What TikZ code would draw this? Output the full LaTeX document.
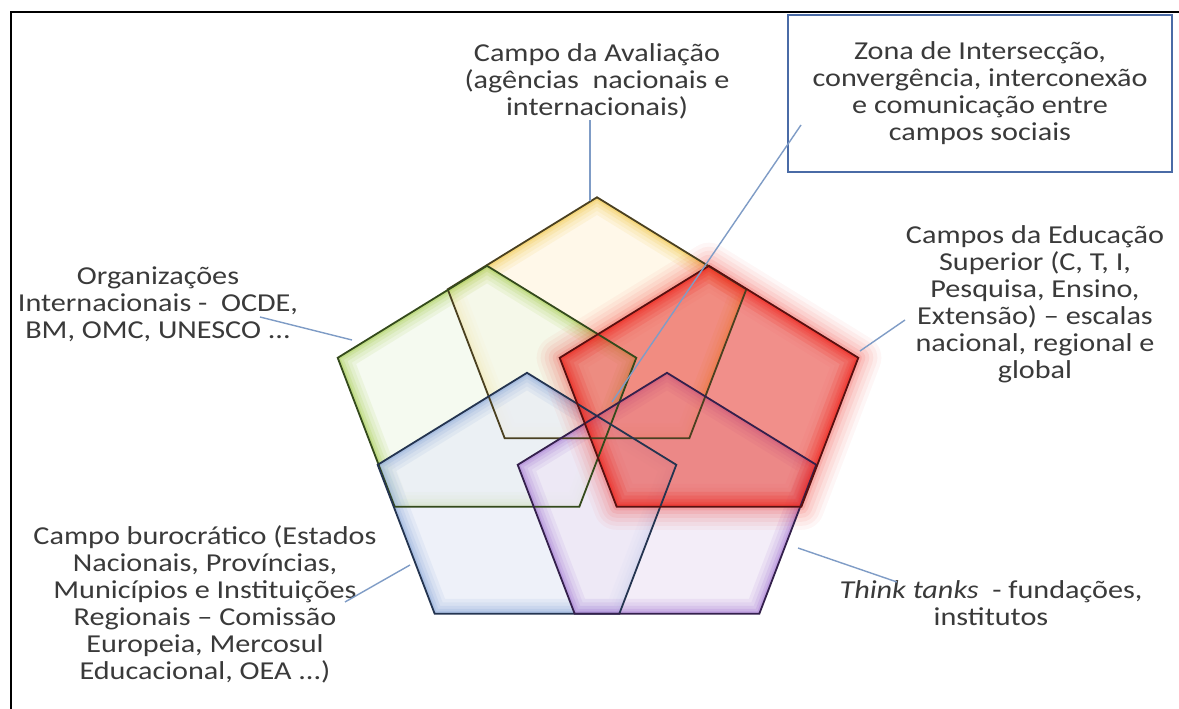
\documentclass[tikz,border=0pt]{standalone}
\usepackage{fontspec}
\setmainfont{Carlito}[FakeStretch=1.17]
\definecolor{txt}{HTML}{3A3A3A}
\definecolor{lead}{HTML}{7F9CC6}
\definecolor{boxc}{HTML}{4A6BA6}
\definecolor{yel}{HTML}{F2C230}
\definecolor{yelfill}{HTML}{FFF7E4}
\definecolor{yelln}{HTML}{4A4020}
\definecolor{grn}{HTML}{9CC83C}
\definecolor{grnfill}{HTML}{F2F8EA}
\definecolor{grnln}{HTML}{344A1C}
\definecolor{blu}{HTML}{7E9FD6}
\definecolor{blufill}{HTML}{E8ECF7}
\definecolor{bluln}{HTML}{243450}
\definecolor{pur}{HTML}{9B6BD0}
\definecolor{purfill}{HTML}{EEE6F6}
\definecolor{purln}{HTML}{34204C}
\definecolor{redc}{HTML}{F0241C}
\definecolor{redfill}{HTML}{E83F37}
\definecolor{redln}{HTML}{5A1010}
\newcommand{\mkpent}[3]{%
  \coordinate (#1-a) at (#2, #3-133.2);
  \coordinate (#1-b) at (#2+149.3, #3-41.2);
  \coordinate (#1-c) at (#2+92.3, #3+107.8);
  \coordinate (#1-d) at (#2-92.3, #3+107.8);
  \coordinate (#1-e) at (#2-149.3, #3-41.2);}
\newcommand{\pent}[2]{\path[#2] (#1-a) -- (#1-b) -- (#1-c) -- (#1-d) -- (#1-e) -- cycle;}
\newcommand{\innerglow}[2]{%
  \begin{scope}
    \clip (#1-a) -- (#1-b) -- (#1-c) -- (#1-d) -- (#1-e) -- cycle;
    \pent{#1}{draw=#2, line width=30pt, draw opacity=0.10, line join=miter}
    \pent{#1}{draw=#2, line width=23pt, draw opacity=0.10, line join=miter}
    \pent{#1}{draw=#2, line width=16pt, draw opacity=0.14, line join=miter}
    \pent{#1}{draw=#2, line width=10pt, draw opacity=0.18, line join=miter}
    \pent{#1}{draw=#2, line width=5pt, draw opacity=0.28, line join=miter}
  \end{scope}}
\begin{document}
\begin{tikzpicture}[x=1pt,y=-1pt,
  lbl/.style={font=\fontsize{25.8}{27}\selectfont, text=txt, align=center, inner sep=0pt},
  leader/.style={draw=lead, line width=1.4pt},
  pentline/.style={line width=1.8pt, line join=miter}]
\useasboundingbox (0,0) rectangle (1179,709);
\fill[white] (0,0) rectangle (1179,709);
\draw[line width=2.2pt, black] (11,709) -- (11,12) -- (1179,12);

\mkpent{Y}{597}{330.5}
\mkpent{G}{487}{399}
\mkpent{R}{709}{399}
\mkpent{B}{527}{506}
\mkpent{P}{667}{506}

\pent{Y}{fill=yelfill, fill opacity=0.8}
\innerglow{Y}{yel}
\pent{G}{fill=grnfill, fill opacity=0.7}
\innerglow{G}{grn}
\pent{B}{fill=blufill, fill opacity=0.7}
\innerglow{B}{blu}
\pent{P}{fill=purfill, fill opacity=0.7}
\innerglow{P}{pur}
% red with soft outer glow
\pent{R}{draw=redc, line width=46pt, draw opacity=0.04, line join=round}
\pent{R}{draw=redc, line width=38pt, draw opacity=0.05, line join=round}
\pent{R}{draw=redc, line width=30pt, draw opacity=0.06, line join=round}
\pent{R}{draw=redc, line width=22pt, draw opacity=0.07, line join=round}
\pent{R}{draw=redc, line width=14pt, draw opacity=0.09, line join=round}
\pent{R}{draw=redc, line width=7pt, draw opacity=0.12, line join=round}
\pent{R}{fill=redfill, fill opacity=0.58}
\innerglow{R}{redc}

\pent{Y}{draw=yelln, pentline}
\pent{G}{draw=grnln, pentline}
\pent{B}{draw=bluln, pentline}
\pent{P}{draw=purln, pentline}
\pent{R}{draw=redln, pentline}

\node[lbl] (aval) at (597,81) {Campo da Avaliação\\(agências\ \ nacionais e\\internacionais)};
\node[lbl, draw=boxc, line width=2pt, minimum width=384pt, minimum height=157pt] (zona) at (980,93.5)
  {Zona de Intersecção,\\convergência, interconexão\\e comunicação entre\\campos sociais};
\node[lbl] (edu) at (1035,304.5) {Campos da Educação\\Superior (C, T, I,\\Pesquisa, Ensino,\\Extensão) – escalas\\nacional, regional e\\global};
\node[lbl] (org) at (158,304) {Organizações\\Internacionais -\ \ OCDE,\\BM, OMC, UNESCO ...};
\node[lbl] (buro) at (205,604.5) {Campo burocrático (Estados\\Nacionais, Províncias,\\Municípios e Instituições\\Regionais – Comissão\\Europeia, Mercosul\\Educacional, OEA ...)};
\node[lbl] (think) at (991,603.5) {\textit{Think tanks}\ \ - fundações,\\institutos};

\coordinate (avalA) at (590,120);
\coordinate (avalB) at (590,201);
\coordinate (zonaA) at (801,125);
\coordinate (zonaB) at (612,402);
\coordinate (eduA) at (905,320);
\coordinate (eduB) at (860,351);
\coordinate (orgA) at (260,317);
\coordinate (orgB) at (352,340);
\coordinate (buroA) at (345,602);
\coordinate (buroB) at (410,565);
\coordinate (thinkA) at (897,582);
\coordinate (thinkB) at (798,548);
\draw[leader] (avalA) -- (avalB);
\draw[leader] (zonaA) -- (zonaB);
\draw[leader] (eduA) -- (eduB);
\draw[leader] (orgA) -- (orgB);
\draw[leader] (buroA) -- (buroB);
\draw[leader] (thinkA) -- (thinkB);
\end{tikzpicture}
\end{document}
